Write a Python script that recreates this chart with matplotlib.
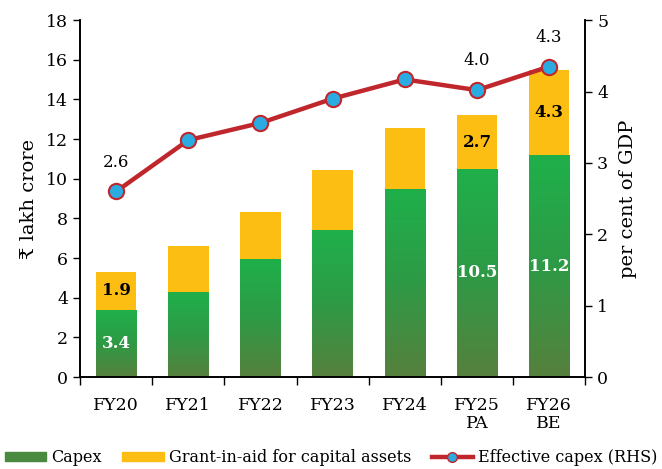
import numpy as np
import matplotlib
matplotlib.use("Agg")
import matplotlib.pyplot as plt
from matplotlib.patches import Patch
from matplotlib.lines import Line2D
from matplotlib.colors import LinearSegmentedColormap

plt.rcParams['font.family'] = ['DejaVu Serif', 'DejaVu Sans']

categories = ["FY20", "FY21", "FY22", "FY23", "FY24", "FY25\nPA", "FY26\nBE"]
capex = [3.4, 4.3, 5.95, 7.4, 9.5, 10.5, 11.2]
grants = [1.9, 2.3, 2.4, 3.05, 3.05, 2.7, 4.3]
effective_pct = [2.6, 3.32, 3.56, 3.9, 4.17, 4.02, 4.35]

capex_labels = {0: "3.4", 5: "10.5", 6: "11.2"}
grant_labels = {0: "1.9", 5: "2.7", 6: "4.3"}
line_labels = {0: "2.6", 5: "4.0", 6: "4.3"}

fig = plt.figure(figsize=(6.62, 4.69), dpi=100)
ax = fig.add_axes([0.121, 0.196, 0.763, 0.761])
ax2 = ax.twinx()

x = np.arange(len(categories))
w = 0.56
yellow = "#FDBE14"
cmap = LinearSegmentedColormap.from_list("g", ["#56803D", "#2E9A45", "#1FB04B"])

bars = ax.bar(x, capex, w, color="#3E9A45", zorder=2)
grad = np.linspace(0, 1, 256).reshape(-1, 1)
for b in bars:
    bx, by = b.get_x(), b.get_y()
    bw, bh = b.get_width(), b.get_height()
    im = ax.imshow(grad, cmap=cmap, origin="lower", aspect="auto",
                   extent=[bx, bx + bw, by, by + bh], zorder=2.5)
    im.set_clip_path(b)
ax.bar(x, grants, w, bottom=capex, color=yellow, zorder=2)

for i, t in capex_labels.items():
    ax.text(x[i], capex[i] / 2, t, ha="center", va="center", color="white",
            fontsize=12, fontweight="bold", zorder=5)
for i, t in grant_labels.items():
    ax.text(x[i], capex[i] + grants[i] / 2, t, ha="center", va="center",
            color="black", fontsize=12, fontweight="bold", zorder=5)

ax2.plot(x, effective_pct, color="#C0272D", lw=3.2, marker="o", ms=11,
         markerfacecolor="#2AABE2", markeredgecolor="#C0272D",
         markeredgewidth=1.5, zorder=6)
for i, t in line_labels.items():
    ax2.annotate(t, (x[i], effective_pct[i]), xytext=(0, 15),
                 textcoords="offset points", ha="center", va="bottom",
                 fontsize=12)

ax.set_xlim(-0.5, len(categories) - 0.5)
ax.set_ylim(0, 18)
ax.set_yticks(range(0, 19, 2))
ax2.set_ylim(0, 5)
ax2.set_yticks(range(0, 6))

ax.set_xticks(x)
ax.set_xticklabels(categories, fontsize=12.5, linespacing=1.15)
ax.set_xticks(np.arange(-0.5, len(categories), 1), minor=True)
ax.tick_params(axis="x", which="major", length=0, pad=14)
ax.tick_params(axis="x", which="minor", length=6, width=1, direction="out")
ax.tick_params(axis="y", labelsize=12.5, length=5, width=1)
ax2.tick_params(axis="y", labelsize=12.5, length=5, width=1)

ax.set_ylabel("₹ lakh crore", fontsize=14, labelpad=6)
ax2.set_ylabel("per cent of GDP", fontsize=14, labelpad=8)

for a in (ax, ax2):
    a.spines["top"].set_visible(False)
    for s in ("left", "right", "bottom"):
        a.spines[s].set_linewidth(1.2)
        a.spines[s].set_color("black")
ax2.set_zorder(ax.get_zorder() + 1)
ax2.patch.set_visible(False)

handles = [Patch(color="#4A8A40", label="Capex"),
           Patch(color=yellow, label="Grant-in-aid for capital assets"),
           Line2D([0], [0], color="#C0272D", lw=3.2, marker="o", ms=7,
                  markerfacecolor="#2AABE2", markeredgecolor="#C0272D",
                  label="Effective capex (RHS)")]
fig.legend(handles=handles, loc="lower center", bbox_to_anchor=(0.5, -0.025),
           ncol=3, frameon=False, fontsize=11.5, handlelength=2.6,
           handleheight=0.5, columnspacing=1.3, handletextpad=0.3)

fig.savefig("out.png", dpi=100)
